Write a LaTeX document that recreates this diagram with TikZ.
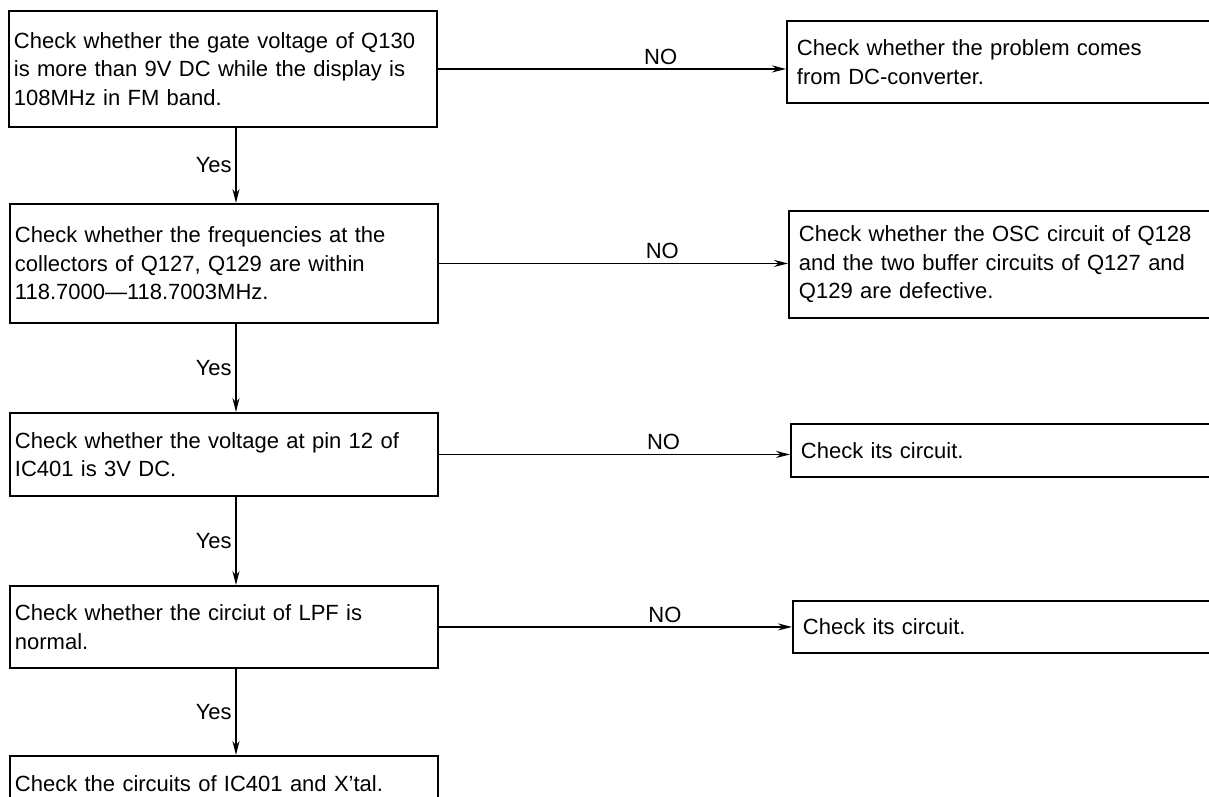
\documentclass[tikz,border=0pt]{standalone}
\usepackage{fontspec}
\setmainfont{Liberation Sans}
\usetikzlibrary{arrows.meta}
\begin{document}
\begin{tikzpicture}[x=1pt, y=-1pt, line width=1.9pt,
    font=\fontsize{22}{28.5}\selectfont,
    checkbox/.style={draw, anchor=north west, text width=418pt, inner xsep=5pt, align=left},
    resultbox/.style={draw, anchor=north west, text width=440pt, inner xsep=10pt, align=left},
    flow/.style={-{Stealth[length=14pt, width=7pt]}}]
    \useasboundingbox (0,0) rectangle (1209,797);
    \clip (0,0) rectangle (1209,797);
    % checks
    \node[checkbox, minimum height=116] (gate) at (8,10) {Check whether the gate voltage of Q130\\ is more than 9V DC while the display is\\ 108MHz in FM band.};
    \node[checkbox, minimum height=119] (freq) at (9,203) {Check whether the frequencies at the\\ collectors of Q127, Q129 are within\\ 118.7000---118.7003MHz.};
    \node[checkbox, minimum height=83] (pin) at (9,412) {Check whether the voltage at pin 12 of\\ IC401 is 3V DC.};
    \node[checkbox, minimum height=82] (lpf) at (9,585) {Check whether the circiut of LPF is\\ normal.};
    \node[checkbox, minimum height=56] (xtal) at (9,755) {Check the circuits of IC401 and X'tal.};
    % results
    \node[resultbox, minimum height=82] (conv) at (786,20) {Check whether the problem comes\\ from DC-converter.};
    \node[resultbox, minimum height=107] (osc) at (788,210) {Check whether the OSC circuit of Q128\\ and the two buffer circuits of Q127 and\\ Q129 are defective.};
    \node[resultbox, minimum height=53] (its1) at (790,423) {Check its circuit.};
    \node[resultbox, minimum height=52] (its2) at (792,600) {Check its circuit.};
    % NO edges
    \draw[flow] (gate.east) -- (gate.east -| conv.west) node[above, pos=0.64] {NO};
    \draw[flow] (freq.east) -- (freq.east -| osc.west) node[above, pos=0.64] {NO};
    \draw[flow] (pin.east) -- (pin.east -| its1.west) node[above, pos=0.64] {NO};
    \draw[flow] (lpf.east) -- (lpf.east -| its2.west) node[above, pos=0.64] {NO};
    % Yes edges
    \draw[flow] ([xshift=13]gate.south) -- ([xshift=12]freq.north) node[left, midway] {Yes};
    \draw[flow] ([xshift=12]freq.south) -- ([xshift=12]pin.north) node[left, midway] {Yes};
    \draw[flow] ([xshift=12]pin.south) -- ([xshift=12]lpf.north) node[left, midway] {Yes};
    \draw[flow] ([xshift=12]lpf.south) -- ([xshift=12]xtal.north) node[left, midway] {Yes};
\end{tikzpicture}
\end{document}
